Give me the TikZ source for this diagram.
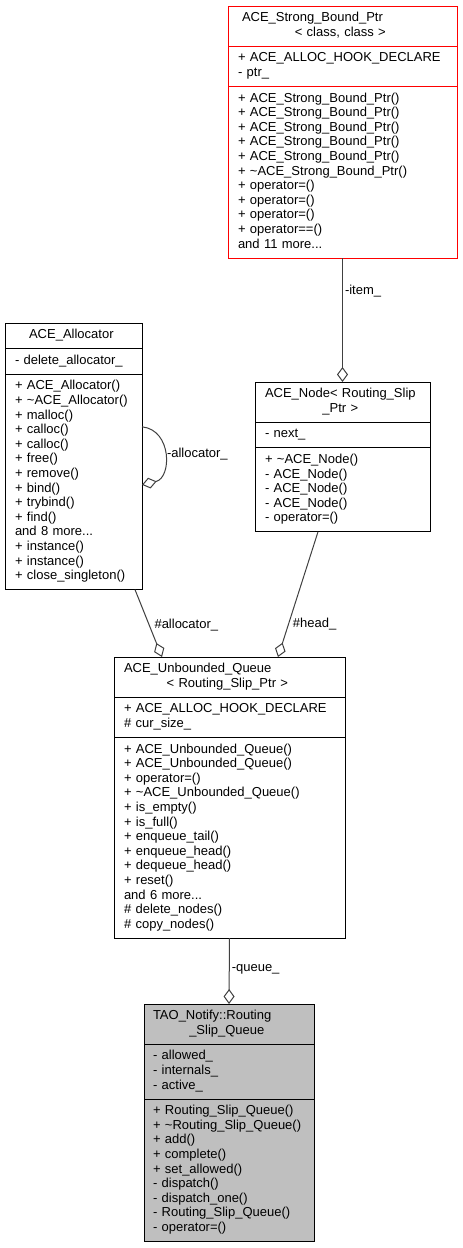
\documentclass[tikz,border=0pt]{standalone}
\usepackage{fontspec}
\setmainfont{Liberation Sans}
\usetikzlibrary{shapes.multipart,arrows.meta,positioning}
\definecolor{grey25}{HTML}{404040}
\definecolor{grey75}{HTML}{BFBFBF}

\begin{document}
\begin{tikzpicture}[
                x=1pt, y=-1pt,
                cls/.style={
                    draw, line width=1pt,
                    rectangle split, rectangle split parts=3,
                    text width=#1, align=left,
                    inner xsep=10pt, inner ysep=5pt, outer sep=0pt,
                    anchor=north west,
                    font=\fontsize{13}{14.6}\selectfont,
                    execute at begin node=\strut,
                    execute at end node=\strut},
                link/.style={
                    draw=grey25, line width=1pt,
                    -{Diamond[open,length=15pt,width=11pt]}},
                lbl/.style={
                    font=\fontsize{13}{14.6}\selectfont,
                    inner sep=2pt, right}]
            \useasboundingbox (0,0) rectangle (463,1248);

            \node[cls=209pt, draw=red] (sbp) at (228,6) {
                \hspace*{4pt}ACE\_Strong\_Bound\_Ptr\\
                \hspace*{\fill}< class, class >\hspace*{\fill}
                \nodepart{two}
                + ACE\_ALLOC\_HOOK\_DECLARE\\
                - ptr\_
                \nodepart{three}
                + ACE\_Strong\_Bound\_Ptr()\\
                + ACE\_Strong\_Bound\_Ptr()\\
                + ACE\_Strong\_Bound\_Ptr()\\
                + ACE\_Strong\_Bound\_Ptr()\\
                + ACE\_Strong\_Bound\_Ptr()\\
                + \textasciitilde ACE\_Strong\_Bound\_Ptr()\\
                + operator=()\\
                + operator=()\\
                + operator=()\\
                + operator==()\\
                and 11 more...};
            \node[cls=117pt] (alloc) at (5,323) {
                \hspace*{\fill}ACE\_Allocator\hspace*{\fill}
                \nodepart{two}
                - delete\_allocator\_
                \nodepart{three}
                + ACE\_Allocator()\\
                + \textasciitilde ACE\_Allocator()\\
                + malloc()\\
                + calloc()\\
                + calloc()\\
                + free()\\
                + remove()\\
                + bind()\\
                + trybind()\\
                + find()\\
                and 8 more...\\
                + instance()\\
                + instance()\\
                + close\_singleton()};
            \node[cls=155pt] (nd) at (255,382) {
                ACE\_Node< Routing\_Slip\\
                \hspace*{\fill}\_Ptr >\hspace*{\fill}
                \nodepart{two}
                - next\_
                \nodepart{three}
                + \textasciitilde ACE\_Node()\\
                - ACE\_Node()\\
                - ACE\_Node()\\
                - ACE\_Node()\\
                - operator=()};
            \node[cls=211pt] (uq) at (114,657) {
                ACE\_Unbounded\_Queue\\
                \hspace*{\fill}< Routing\_Slip\_Ptr >\hspace*{\fill}
                \nodepart{two}
                + ACE\_ALLOC\_HOOK\_DECLARE\\
                \# cur\_size\_
                \nodepart{three}
                + ACE\_Unbounded\_Queue()\\
                + ACE\_Unbounded\_Queue()\\
                + operator=()\\
                + \textasciitilde ACE\_Unbounded\_Queue()\\
                + is\_empty()\\
                + is\_full()\\
                + enqueue\_tail()\\
                + enqueue\_head()\\
                + dequeue\_head()\\
                + reset()\\
                and 6 more...\\
                \# delete\_nodes()\\
                \# copy\_nodes()};
            \node[cls=152pt, inner xsep=9pt, fill=grey75] (rsq) at (144,1004) {
                TAO\_Notify::Routing\\
                \hspace*{\fill}\_Slip\_Queue\hspace*{\fill}
                \nodepart{two}
                - allowed\_\\
                - internals\_\\
                - active\_
                \nodepart{three}
                + Routing\_Slip\_Queue()\\
                + \textasciitilde Routing\_Slip\_Queue()\\
                + add()\\
                + complete()\\
                + set\_allowed()\\
                - dispatch()\\
                - dispatch\_one()\\
                - Routing\_Slip\_Queue()\\
                - operator=()};

            \path
            (sbp.south)
                edge [link] node [lbl, pos=.27] {-item\_} (nd.north)
            ([xshift=61.5pt]alloc.south)
                edge [link] node [lbl, pos=.52, xshift=3pt] {\#allocator\_} ([xshift=-67.5pt]uq.north)
            ([xshift=-24.5pt]nd.south)
                edge [link] node [lbl, pos=.74, xshift=2pt] {\#head\_} ([xshift=48.5pt]uq.north)
            (uq.south)
                edge [link] node [lbl, pos=.48] {-queue\_} (rsq.north);
            \draw[link] ([yshift=29.5pt]alloc.east)
                .. controls +(30,3) and +(30,-7) .. ([yshift=-28.5pt]alloc.east)
                node [lbl, pos=.5] {-allocator\_};
        \end{tikzpicture}
\end{document}
